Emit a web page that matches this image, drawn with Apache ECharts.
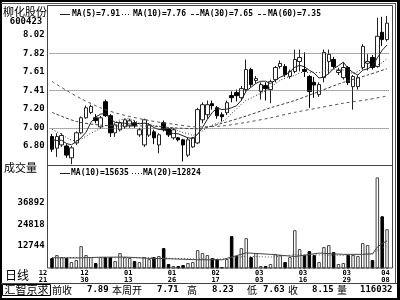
<!DOCTYPE html>
<html><head><meta charset="utf-8">
<script src="https://cdn.jsdelivr.net/npm/echarts@6/dist/echarts.min.js"></script>
<style>html,body{margin:0;padding:0;background:#fff}#c{width:400px;height:300px}</style>
</head><body><div id="c"></div>
<script>
const dates = ['12/21','12/22','12/23','12/24','12/27','12/28','12/29','12/30','12/31','01/04',
'01/05','01/06','01/07','01/10','01/11','01/12','01/13','01/14','01/17','01/18',
'01/19','01/20','01/21','01/24','01/25','01/26','01/27','01/28','01/31','02/01',
'02/02','02/03','02/04','02/16','02/17','02/18','02/21','02/22','02/23','02/24',
'02/25','02/28','03/01','03/03','03/04','03/07','03/08','03/09','03/10','03/11',
'03/14','03/15','03/16','03/17','03/18','03/21','03/22','03/23','03/24','03/25',
'03/28','03/29','03/30','03/31','04/01','04/04','04/05','04/06','04/07','04/08'];
const labelDates = ['12/21','12/30','01/13','01/26','02/17','03/03','03/16','03/29','04/08'];

const open = [6.904,6.776,6.812,6.80,6.67,6.834,6.945,7.11,7.169,7.11,
7.01,7.287,7.133,6.945,6.978,7.011,7.022,7.055,6.923,6.812,
6.92,6.956,6.812,7.055,6.989,6.89,6.89,6.868,6.70,6.79,
6.834,7.088,7.144,7.265,7.221,7.144,7.166,7.354,7.387,7.331,
7.42,7.64,7.519,7.398,7.464,7.42,7.53,7.674,7.674,7.564,
7.619,7.729,7.641,7.564,7.50,7.365,7.552,7.729,7.751,7.608,
7.552,7.663,7.453,7.453,7.663,7.71,7.773,7.674,8.05,7.97];
const close = [6.765,6.904,6.915,6.70,6.78,6.945,7.11,7.22,7.235,7.08,
7.11,7.133,6.945,7.033,7.055,7.088,7.077,7.022,6.978,7.088,
7.03,6.89,6.923,6.978,6.923,6.978,6.868,6.812,6.868,6.89,
7.20,7.254,7.254,7.243,7.133,7.122,7.276,7.331,7.354,7.431,
7.64,7.475,7.541,7.475,7.431,7.508,7.663,7.707,7.586,7.619,
7.751,7.773,7.619,7.398,7.47,7.475,7.829,7.807,7.674,7.63,
7.663,7.497,7.564,7.552,7.895,7.73,7.663,8.006,7.97,8.15];
const high = [6.934,6.94,6.94,6.82,6.80,6.96,7.125,7.245,7.255,7.15,
7.13,7.31,7.15,7.05,7.07,7.10,7.10,7.08,7.00,7.10,
7.05,6.98,6.94,7.08,7.00,7.00,6.90,6.88,6.89,6.90,
7.22,7.28,7.30,7.30,7.24,7.17,7.30,7.40,7.42,7.46,
7.75,7.66,7.57,7.50,7.50,7.53,7.68,7.74,7.70,7.64,
7.86,7.86,7.83,7.58,7.56,7.50,7.86,7.86,7.78,7.66,
7.72,7.68,7.58,7.58,7.92,7.81,7.80,8.21,8.22,8.23];
const low = [6.735,6.68,6.79,6.67,6.60,6.81,6.93,7.10,7.15,7.05,
6.99,7.12,6.90,6.90,6.96,6.99,7.00,7.00,6.90,6.79,
6.90,6.82,6.72,6.96,6.90,6.87,6.85,6.63,6.68,6.78,
6.82,7.05,7.10,7.20,7.10,7.07,7.14,7.28,7.29,7.30,
7.40,7.45,7.49,7.31,7.30,7.27,7.50,7.65,7.56,7.54,
7.60,7.62,7.56,7.22,7.33,7.34,7.50,7.59,7.65,7.58,
7.53,7.47,7.20,7.42,7.64,7.63,7.64,7.66,7.90,7.95];
const volume = [6160,7800,6700,6160,3960,5060,12740,7800,6700,3410,
6700,6700,6700,4510,8900,6700,6160,4510,3960,6700,
5610,6700,7260,11650,2870,1770,1770,2320,3410,3960,
10550,8900,7800,6160,5610,1220,5610,18230,7260,11650,
17130,6700,8900,1770,1770,2870,8350,7800,3960,6700,
21520,11100,7800,10000,7800,3960,12200,13290,9450,2870,
3410,7800,7800,7260,14390,13290,5060,50610,29200,22070];

const ma5 = [6.869,6.860,6.863,6.827,6.813,6.849,6.890,6.951,7.058,7.118,
7.151,7.156,7.101,7.060,7.055,7.051,7.040,7.055,7.044,7.051,
7.039,7.002,6.982,6.982,6.949,6.938,6.934,6.912,6.890,6.883,
6.928,7.005,7.093,7.168,7.217,7.201,7.206,7.221,7.243,7.303,
7.406,7.446,7.488,7.512,7.512,7.486,7.524,7.557,7.579,7.617,
7.665,7.687,7.670,7.632,7.602,7.547,7.558,7.596,7.651,7.683,
7.721,7.654,7.606,7.581,7.634,7.648,7.681,7.769,7.853,7.91];
const ma10 = [6.985,6.955,6.931,6.891,6.864,6.859,6.875,6.907,6.942,6.965,
7.000,7.023,7.026,7.059,7.087,7.101,7.098,7.078,7.052,7.053,
7.045,7.021,7.018,7.013,7.000,6.989,6.968,6.947,6.936,6.916,
6.933,6.969,7.003,7.029,7.050,7.064,7.105,7.157,7.206,7.260,
7.304,7.326,7.355,7.378,7.408,7.446,7.485,7.523,7.546,7.565,
7.576,7.605,7.613,7.606,7.609,7.606,7.623,7.633,7.642,7.643,
7.634,7.606,7.601,7.616,7.659,7.684,7.668,7.687,7.717,7.76];
const ma30 = [[0,7.17],[5,7.07],[10,7.03],[15,7.02],[20,7.02],[25,7.00],[30,6.99],[35,7.05],[40,7.13],[45,7.22],[50,7.30],[55,7.40],[60,7.50],[65,7.58],[69,7.65]];
const ma60 = [[0,7.51],[3,7.41],[6,7.32],[10,7.22],[14,7.15],[20,7.08],[25,7.04],[30,7.01],[35,7.02],[40,7.06],[45,7.11],[50,7.17],[55,7.22],[60,7.27],[65,7.31],[69,7.35]];
const volMa10 = [[0,6300],[5,6200],[10,6600],[15,6700],[20,6000],[25,5700],[30,5200],[35,5200],[40,9000],[45,8200],[50,7000],[55,8900],[60,8200],[64,8200],[65,8400],[66,8500],[67,12200],[68,14200],[69,15635]];
const volMa20 = [[0,6500],[10,6400],[20,6300],[25,6000],[30,5600],[35,5600],[40,7100],[45,6700],[50,8000],[55,7900],[60,7600],[64,8100],[66,8300],[67,10500],[68,11600],[69,12824]];

const priceTicks = ['6.80','7.00','7.20','7.41','7.61','7.82','8.02'];
const priceGrid = [7.00, 7.41, 7.82];
const volTicks = [12744, 24818, 36892];
const maLegend = ['MA(5)=7.91','MA(10)=7.76','MA(30)=7.65','MA(60)=7.35'];
const volLegend = ['MA(10)=15635','MA(20)=12824'];
const infoBar = ['汇智京求','前收','7.89','本周开','7.71','高','8.23','低','7.63','收','8.15','量','116032'];

const priceStep = 0.2033, priceMin = 6.80 - priceStep, priceMax = 8.339;
const volStep = 12074, volMin = 670, volMax = 57196;

const chart = echarts.init(document.getElementById('c'), null, {renderer:'canvas'});
const mono = '"DejaVu Sans Mono", monospace';
const cjk = '"Noto Sans CJK SC", sans-serif';
function T(text, x, y, font, align){
  return {type:'text', x:x, y:y, silent:true, z:100,
    style:{text:text, font:font, fill:'#000', textAlign:align||'left', textVerticalAlign:'middle', align:align||'left', verticalAlign:'middle'}};
}
function L(x1,y1,x2,y2,stroke,dash,w){
  return {type:'line', silent:true, z:100, shape:{x1:x1,y1:y1,x2:x2,y2:y2},
    style:{stroke:stroke||'#333', lineWidth:w||1, lineDash:dash||null}};
}
const legFont = 'bold 8px ' + mono;
const graphics = [
  {type:'rect', silent:true, z:90, shape:{x:1,y:1,width:398,height:298}, style:{fill:null, stroke:'#000', lineWidth:2}},
  {type:'rect', silent:true, z:90, shape:{x:397,y:0,width:3,height:300}, style:{fill:'#000'}},
  L(1,3.5,396,3.5,'#555'),
  {type:'rect', silent:true, z:90, shape:{x:47.5,y:5.5,width:345,height:262.5}, style:{fill:null, stroke:'#444', lineWidth:1}},
  L(47.5,165.5,392.5,165.5,'#444'),
  L(395.5,3,395.5,283,'#555'),
  L(1,283.5,397,283.5,'#444'),
  {type:'rect', silent:true, z:90, shape:{x:2.5,y:284.5,width:48,height:11}, style:{fill:null, stroke:'#000', lineWidth:1}},
  T('柳化股份', 3, 12, '11px ' + cjk),
  T('600423', 26, 22, 'bold 9px ' + mono, 'center'),
  T('成交量', 4, 168, '11px ' + cjk),
  T('日线', 5, 275, '12px ' + cjk),
  L(60,14.5,70,14.5,'#222'), T(maLegend[0], 72, 14, legFont),
  L(122,14.5,131,14.5,'#222',[1,2]), T(maLegend[1], 133, 14, legFont),
  L(191,14.5,199,14.5,'#222',[3,2]), T(maLegend[2], 200, 14, legFont),
  L(258,14.5,267,14.5,'#222',[3,2]), T(maLegend[3], 268, 14, legFont),
  L(60,173.5,70,173.5,'#222'), T(volLegend[0], 71, 173, legFont),
  L(132,173.5,142,173.5,'#222',[1,2]), T(volLegend[1], 143, 173, legFont),
  T(infoBar[0], 26.5, 290, '11px ' + cjk, 'center'),
  T(infoBar[1], 52, 290, '10px ' + cjk),
  T(infoBar[2], 87, 290, 'bold 9px ' + mono),
  T(infoBar[3], 112, 290, '10px ' + cjk),
  T(infoBar[4], 157, 290, 'bold 9px ' + mono),
  T(infoBar[5], 187, 290, '10px ' + cjk),
  T(infoBar[6], 212, 290, 'bold 9px ' + mono),
  T(infoBar[7], 247, 290, '10px ' + cjk),
  T(infoBar[8], 263, 290, 'bold 9px ' + mono),
  T(infoBar[9], 288, 290, '10px ' + cjk),
  T(infoBar[10], 312, 290, 'bold 9px ' + mono),
  T(infoBar[11], 337, 290, '10px ' + cjk),
  T(infoBar[12], 360, 290, 'bold 9px ' + mono)
];

const candleData = dates.map((d,i)=>[open[i], close[i], low[i], high[i]]);
const volData = volume.map((v,i)=>({value:v, itemStyle: close[i] >= open[i] ?
  {color:'#fff', borderColor:'#444', borderWidth:1} : {color:'#000', borderColor:'#000', borderWidth:1}}));

const gridLeft = 49.57, gridWidth = 339.9;
const option = {
  animation:false,
  backgroundColor:'#fff',
  grid:[
    {left:gridLeft, top:6, width:gridWidth, height:158.5},
    {left:gridLeft, top:165.5, width:gridWidth, height:102.5}
  ],
  xAxis:[
    {type:'category', gridIndex:0, data:dates, boundaryGap:true,
      axisLine:{show:false}, axisTick:{show:false}, axisLabel:{show:false}, splitLine:{show:false}},
    {type:'category', gridIndex:1, data:dates, boundaryGap:true,
      axisLine:{show:false}, axisTick:{show:false}, splitLine:{show:false},
      axisLabel:{show:true, margin:2, color:'#000',
        interval:function(idx, val){ return labelDates.indexOf(val) >= 0; },
        formatter:function(val, idx){
          const p = val.split('/'); const s = idx === 0 ? 'f' : 'n';
          return '{'+s+'|'+p[0]+'}\n{'+s+'|'+p[1]+'}';
        },
        rich:{
          n:{fontSize:7, lineHeight:7, fontWeight:'bold', fontFamily:mono, color:'#000', padding:[0,3,0,0]},
          f:{fontSize:7, lineHeight:7, fontWeight:'bold', fontFamily:mono, color:'#000', padding:[0,18,0,0]}
        }}}
  ],
  yAxis:[
    {type:'value', gridIndex:0, min:priceMin, max:priceMax, interval:priceStep,
      axisLine:{show:false}, axisTick:{show:false}, splitLine:{show:false},
      axisLabel:{margin:5, color:'#000', fontSize:9, fontWeight:'bold', fontFamily:mono,
        formatter:function(v){
          const k = Math.round((v - priceMin)/priceStep);
          if (Math.abs(v - (priceMin + k*priceStep)) > 1e-3) return '';
          return priceTicks[k-1] || '';
        }}},
    {type:'value', gridIndex:1, min:volMin, max:volMax, interval:volStep,
      axisLine:{show:false}, axisTick:{show:false}, splitLine:{show:false},
      axisLabel:{margin:5, color:'#000', fontSize:9, fontWeight:'bold', fontFamily:mono,
        formatter:function(v){
          for (const t of volTicks) if (Math.abs(v - t) < 1) return String(t);
          return '';
        }}}
  ],
  series:[
    {type:'candlestick', xAxisIndex:0, yAxisIndex:0, data:candleData, barWidth:4,
      itemStyle:{color:'#fff', color0:'#000', borderColor:'#222', borderColor0:'#000', borderWidth:1},
      markLine:{silent:true, symbol:['none','none'], label:{show:false},
        lineStyle:{type:'dotted', color:'#555', width:1},
        data: priceGrid.map(v=>({yAxis:v}))}},
    {type:'line', xAxisIndex:0, yAxisIndex:0, data:ma5, symbol:'none', lineStyle:{color:'#222', width:1}},
    {type:'line', xAxisIndex:0, yAxisIndex:0, data:ma10, symbol:'none', lineStyle:{color:'#333', width:1, type:[1,2]}},
    {type:'line', xAxisIndex:0, yAxisIndex:0, data:ma30, symbol:'none', smooth:0.3, lineStyle:{color:'#444', width:1, type:[3,2]}},
    {type:'line', xAxisIndex:0, yAxisIndex:0, data:ma60, symbol:'none', smooth:0.3, lineStyle:{color:'#555', width:1, type:[3,3]}},
    {type:'bar', xAxisIndex:1, yAxisIndex:1, data:volData, barWidth:3.5, clip:true},
    {type:'line', xAxisIndex:1, yAxisIndex:1, data:volMa10, symbol:'none', lineStyle:{color:'#444', width:1}},
    {type:'line', xAxisIndex:1, yAxisIndex:1, data:volMa20, symbol:'none', lineStyle:{color:'#555', width:1, type:[1,2]}}
  ],
  graphic: graphics
};
chart.setOption(option);
</script>
</body></html>
